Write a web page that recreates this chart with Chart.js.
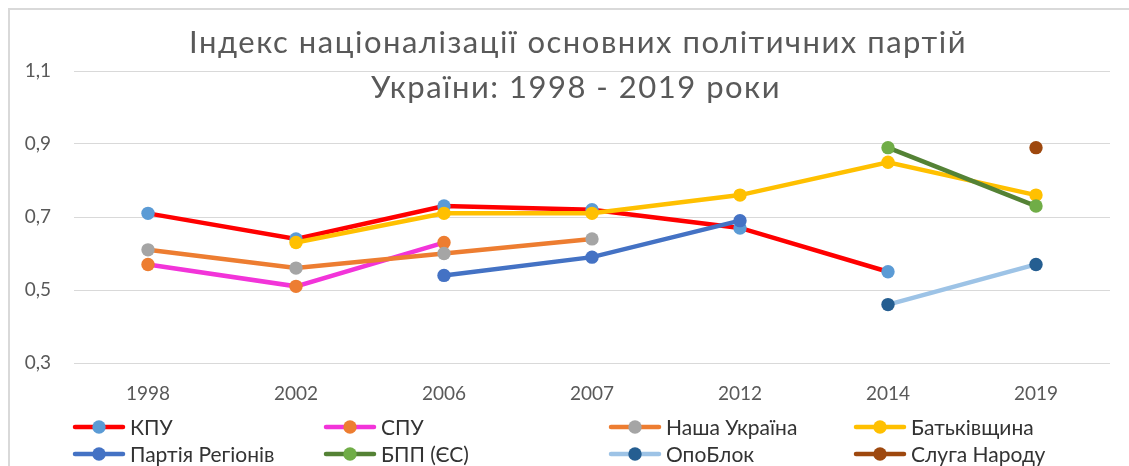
<!DOCTYPE html>
<html>
<head>
<meta charset="utf-8">
<script src="https://cdn.jsdelivr.net/npm/chart.js@4/dist/chart.umd.min.js"></script>
<style>
  html, body { margin: 0; padding: 0; background: #ffffff; }
  #wrap { position: relative; width: 1129px; height: 466px; }
  canvas { display: block; }
</style>
</head>
<body>
<div id="wrap"><canvas id="c" width="1129" height="466"></canvas></div>
<script>
// ---- data ----
const categories = ['1998', '2002', '2006', '2007', '2012', '2014', '2019'];
const titleLines = ['Індекс націоналізації основних політичних партій', 'України: 1998 - 2019 роки'];
const seriesNames = ['КПУ', 'СПУ', 'Наша Україна', 'Батьківщина', 'Партія Регіонів', 'БПП (ЄС)', 'ОпоБлок', 'Слуга Народу'];
const kpu            = [0.71, 0.64, 0.73, 0.72, 0.67, 0.55, null];
const spu            = [0.57, 0.51, 0.63, null, null, null, null];
const nashaUkraina   = [0.61, 0.56, 0.60, 0.64, null, null, null];
const batkivshchyna  = [null, 0.63, 0.71, 0.71, 0.76, 0.85, 0.76];
const partiyaRegioniv= [null, null, 0.54, 0.59, 0.69, null, null];
const bpp            = [null, null, null, null, null, 0.89, 0.73];
const opoBlok        = [null, null, null, null, null, 0.46, 0.57];
const slugaNarodu    = [null, null, null, null, null, null, 0.89];
const yTicks = [0.3, 0.5, 0.7, 0.9, 1.1];

// ---- styles ----
const lineColors   = ['#FF0000', '#F234D9', '#ED7D31', '#FFC000', '#4472C4', '#548235', '#9DC3E6', '#9E480E'];
const markerColors = ['#5B9BD5', '#ED7D31', '#A5A5A5', '#FFC000', '#4472C4', '#70AD47', '#255E91', '#9E480E'];
const allSeries = [kpu, spu, nashaUkraina, batkivshchyna, partiyaRegioniv, bpp, opoBlok, slugaNarodu];

const FONT = 'Lato, "Open Sans", sans-serif';

const datasets = allSeries.map((d, i) => ({
  label: seriesNames[i],
  data: d,
  borderColor: lineColors[i],
  backgroundColor: markerColors[i],
  pointBackgroundColor: markerColors[i],
  pointBorderColor: markerColors[i],
  pointBorderWidth: 0,
  pointRadius: 6.7,
  borderWidth: 4.5,
  tension: 0,
  spanGaps: false,
  order: allSeries.length - i
}));

const legendX = [73, 324, 609, 854];
const legendY = [427, 454];

const decorPlugin = {
  id: 'decor',
  beforeDraw(chart) {
    const ctx = chart.ctx;
    ctx.save();
    ctx.fillStyle = '#ffffff';
    ctx.fillRect(0, 0, chart.width, chart.height);
    ctx.strokeStyle = '#D9D9D9';
    ctx.lineWidth = 2;
    ctx.beginPath();
    ctx.moveTo(9, chart.height + 5);
    ctx.lineTo(9, 9);
    ctx.lineTo(chart.width + 5, 9);
    ctx.stroke();
    ctx.restore();
  },
  afterDraw(chart) {
    const ctx = chart.ctx;
    ctx.save();
    // title
    ctx.fillStyle = '#595959';
    ctx.font = '31px ' + FONT;
    ctx.textAlign = 'center';
    ctx.textBaseline = 'alphabetic';
    if ('letterSpacing' in ctx) ctx.letterSpacing = '1.5px';
    ctx.fillText(titleLines[0], 578, 53);
    ctx.fillText(titleLines[1], 576, 98);
    if ('letterSpacing' in ctx) ctx.letterSpacing = '0px';
    // legend
    ctx.font = '21px ' + FONT;
    ctx.textAlign = 'left';
    ctx.textBaseline = 'middle';
    seriesNames.forEach((name, i) => {
      const col = i % 4, row = Math.floor(i / 4);
      const x = legendX[col], y = legendY[row];
      ctx.strokeStyle = lineColors[i];
      ctx.lineWidth = 4.5;
      ctx.lineCap = 'round';
      ctx.beginPath();
      ctx.moveTo(x + 2, y);
      ctx.lineTo(x + 50, y);
      ctx.stroke();
      ctx.fillStyle = markerColors[i];
      ctx.beginPath();
      ctx.arc(x + 26, y, 6.7, 0, Math.PI * 2);
      ctx.fill();
      ctx.fillStyle = '#333333';
      ctx.fillText(name, x + 57, y + 1);
    });
    ctx.restore();
  }
};

new Chart(document.getElementById('c'), {
  type: 'line',
  data: { labels: categories, datasets },
  options: {
    responsive: false,
    animation: false,
    events: [],
    layout: { padding: { left: 0, right: 19, top: 71, bottom: 0 } },
    plugins: {
      legend: { display: false },
      title: { display: false },
      tooltip: { enabled: false }
    },
    scales: {
      x: {
        offset: true,
        grid: { display: false, drawTicks: false },
        border: { display: false },
        ticks: { color: '#595959', font: { family: FONT, size: 19 }, padding: 19, maxRotation: 0 },
        afterFit(scale) { scale.height = 103; }
      },
      y: {
        min: 0.3,
        max: 1.1,
        afterBuildTicks(scale) { scale.ticks = yTicks.map(v => ({ value: v })); },
        grid: { color: '#D9D9D9', lineWidth: 1, drawTicks: false },
        border: { display: false },
        ticks: {
          color: '#595959',
          font: { family: FONT, size: 19 },
          padding: 23,
          callback: v => v.toFixed(1).replace('.', ',')
        },
        afterFit(scale) { scale.width = 74; }
      }
    }
  },
  plugins: [decorPlugin]
});
</script>
</body>
</html>
